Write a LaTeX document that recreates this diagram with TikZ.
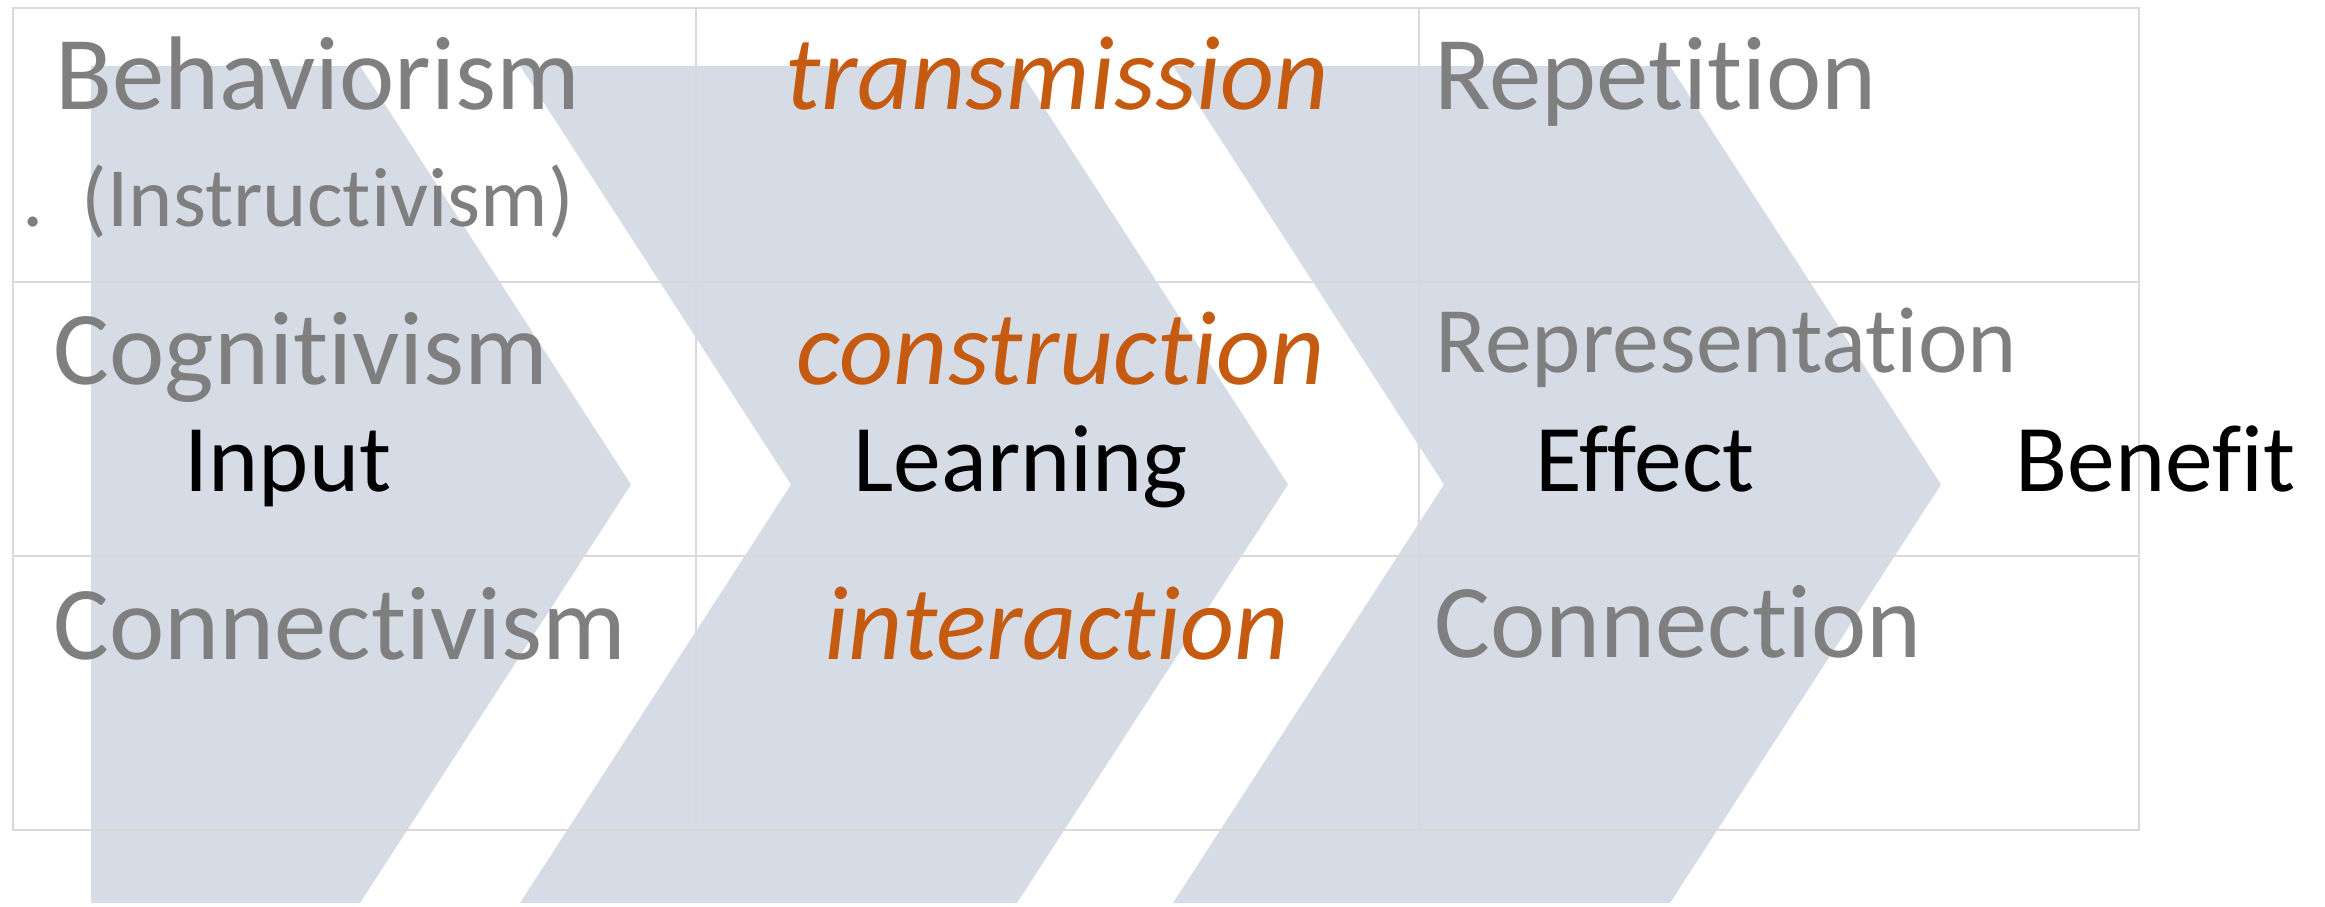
\documentclass[tikz,border=0pt]{standalone}
\usepackage{fontspec}
\setmainfont{Carlito}[Ligatures={NoCommon}]
\definecolor{chevblue}{HTML}{D6DCE5}
\definecolor{gridgray}{HTML}{D9D9D9}
\definecolor{txtgray}{HTML}{7F7F7F}
\definecolor{txtorange}{HTML}{C55A11}
\tikzset{
  chevfill/.style={fill=chevblue},
  gridline/.style={draw=gridgray,line width=0.8pt},
  lbl/.style={anchor=base west,inner sep=0pt},
  graytxt/.style={lbl,text=txtgray,font=\fontsize{29.8}{35}\selectfont},
  orangetxt/.style={lbl,text=txtorange,font=\fontsize{30}{35}\selectfont\itshape},
  maintxt/.style={lbl,text=black,font=\fontsize{27.2}{32}\selectfont}
}
\begin{document}
\begin{tikzpicture}
\useasboundingbox (0,0) rectangle (23.25,9.06);

\fill[chevfill] (0.91,8.40) -- (3.60,8.40) -- (6.31,4.215) -- (3.60,0.03) -- (0.91,0.03) -- cycle;
\foreach \x in {5.20,11.73}
  \fill[chevfill] (\x,8.40) -- (\x+4.97,8.40) -- (\x+7.68,4.215) -- (\x+4.97,0.03) -- (\x,0.03) -- (\x+2.71,4.215) -- cycle;

\draw[gridline] (0.13,0.76) rectangle (21.39,8.98);
\foreach \x in {6.96,14.19}
  \draw[gridline] (\x,0.76) -- (\x,8.98);
\foreach \y in {3.50,6.24}
  \draw[gridline] (0.13,\y) -- (21.39,\y);

\node[graytxt] (behav) at (0.55,7.96) {Behaviorism};
\node[lbl,text=txtgray,font=\fontsize{24}{29}\selectfont] (instr) at (0.22,6.79) {.\hspace{0.38cm}(Instructivism)};
\node[graytxt] (cogn) at (0.53,5.22) {Cognitivism};
\node[graytxt] (conn) at (0.53,2.47) {Connectivism};

\node[orangetxt] (transm) at (7.85,7.96) {transmission};
\node[orangetxt] (constr) at (7.96,5.22) {construction};
\node[orangetxt] (interact) at (8.24,2.47) {interaction};

\node[graytxt] (repet) at (14.34,7.96) {Repetition};
\node[lbl,text=txtgray,font=\fontsize{26.7}{32}\selectfont] (repres) at (14.35,5.33) {Representation};
\node[graytxt] (connect) at (14.34,2.49) {Connection};

\node[maintxt] (input) at (1.84,4.15) {Input};
\node[maintxt] (learn) at (8.53,4.15) {Learning};
\node[maintxt] (effect) at (15.35,4.15) {Effect};
\node[maintxt] (benefit) at (20.15,4.15) {Benefit};

\end{tikzpicture}
\end{document}
